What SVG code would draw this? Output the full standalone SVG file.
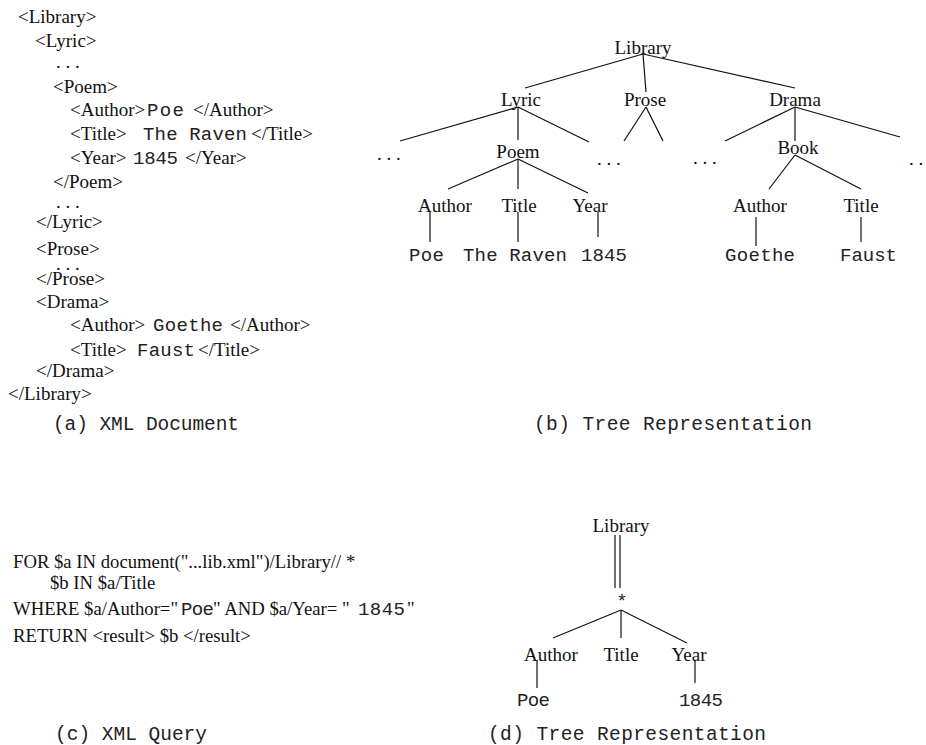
<svg xmlns="http://www.w3.org/2000/svg" width="926" height="745" viewBox="0 0 926 745">
<style>
.s{font-family:"Liberation Serif","Times New Roman",serif;font-size:19px;fill:#111}
.q{font-family:"Liberation Serif","Times New Roman",serif;font-size:18.7px;fill:#111}
.m{font-family:"Liberation Mono","Courier New",monospace;font-size:19px;fill:#222}
.c{font-family:"Liberation Mono","Courier New",monospace;font-size:19.5px;fill:#222}
.n{text-anchor:middle}
.e line{stroke:#111;stroke-width:1.2}
</style>
<rect width="926" height="745" fill="#fff"/>

<!-- (a) XML document -->
<g id="xml-doc">
<text class="s" x="18" y="23">&lt;Library&gt;</text>
<text class="s" x="35" y="47">&lt;Lyric&gt;</text>
<text class="s" x="56" y="68">. . .</text>
<text class="s" x="53" y="93">&lt;Poem&gt;</text>
<text class="s" x="70" y="116">&lt;Author&gt;</text><text class="m" x="147" y="116" textLength="37">Poe</text><text class="s" x="193" y="116">&lt;/Author&gt;</text>
<text class="s" x="70" y="140">&lt;Title&gt;</text><text class="m" x="143" y="140" textLength="104">The Raven</text><text class="s" x="251" y="140">&lt;/Title&gt;</text>
<text class="s" x="70" y="164">&lt;Year&gt;</text><text class="m" x="133" y="164" textLength="45">1845</text><text class="s" x="185" y="164">&lt;/Year&gt;</text>
<text class="s" x="53" y="188">&lt;/Poem&gt;</text>
<text class="s" x="56" y="208">. . .</text>
<text class="s" x="36" y="228">&lt;/Lyric&gt;</text>
<text class="s" x="36" y="255">&lt;Prose&gt;</text>
<text class="s" x="56" y="270">. . .</text>
<text class="s" x="36" y="285">&lt;/Prose&gt;</text>
<text class="s" x="36" y="308">&lt;Drama&gt;</text>
<text class="s" x="70" y="331">&lt;Author&gt;</text><text class="m" x="153" y="331" textLength="70">Goethe</text><text class="s" x="230" y="331">&lt;/Author&gt;</text>
<text class="s" x="70" y="356">&lt;Title&gt;</text><text class="m" x="137" y="356" textLength="58">Faust</text><text class="s" x="198" y="356">&lt;/Title&gt;</text>
<text class="s" x="36" y="377">&lt;/Drama&gt;</text>
<text class="s" x="8" y="400">&lt;/Library&gt;</text>
</g>
<text class="c" x="53" y="430" textLength="186">(a) XML Document</text>

<!-- (b) tree -->
<g class="e" id="tree-b-edges">
<line x1="643" y1="54" x2="525" y2="88"/>
<line x1="643" y1="54" x2="646" y2="92"/>
<line x1="643" y1="54" x2="795" y2="88"/>
<line x1="518" y1="107" x2="400" y2="141"/>
<line x1="518" y1="107" x2="518" y2="140"/>
<line x1="518" y1="107" x2="589" y2="142"/>
<line x1="646" y1="107" x2="624" y2="141"/>
<line x1="646" y1="107" x2="663" y2="141"/>
<line x1="518" y1="159" x2="448" y2="189"/>
<line x1="518" y1="159" x2="518" y2="189"/>
<line x1="518" y1="159" x2="588" y2="193"/>
<line x1="430" y1="212" x2="430" y2="242"/>
<line x1="518" y1="212" x2="518" y2="242"/>
<line x1="598" y1="212" x2="598" y2="237"/>
<line x1="795" y1="107" x2="725" y2="141"/>
<line x1="795" y1="107" x2="795" y2="141"/>
<line x1="795" y1="107" x2="900" y2="137"/>
<line x1="795" y1="155" x2="769" y2="189"/>
<line x1="795" y1="155" x2="861" y2="189"/>
<line x1="756" y1="217" x2="756" y2="246"/>
<line x1="861" y1="217" x2="861" y2="242"/>
</g>
<g id="b-library"><text class="s n" x="643" y="54">Library</text></g>
<g id="b-lyric"><text class="s n" x="521" y="106">Lyric</text></g>
<g id="b-prose"><text class="s n" x="645" y="106">Prose</text></g>
<g id="b-drama"><text class="s n" x="795" y="106">Drama</text></g>
<g id="b-dots1"><text class="s" x="377" y="160">. . .</text></g>
<g id="b-poem"><text class="s n" x="518" y="158">Poem</text></g>
<g id="b-dots2"><text class="s" x="597" y="165">. . .</text></g>
<g id="b-dots3"><text class="s" x="693" y="164">. . .</text></g>
<g id="b-book"><text class="s n" x="798" y="154">Book</text></g>
<g id="b-dots4"><text class="s" x="909" y="165">. . .</text></g>
<g id="b-author1"><text class="s n" x="445" y="212">Author</text></g>
<g id="b-title1"><text class="s n" x="519" y="212">Title</text></g>
<g id="b-year"><text class="s n" x="590" y="212">Year</text></g>
<g id="b-author2"><text class="s n" x="760" y="212">Author</text></g>
<g id="b-title2"><text class="s n" x="861" y="212">Title</text></g>
<g id="b-poe"><text class="m" x="409" y="261" textLength="35">Poe</text></g>
<g id="b-raven"><text class="m" x="463" y="261" textLength="104">The Raven</text></g>
<g id="b-1845"><text class="m" x="581" y="261" textLength="46">1845</text></g>
<g id="b-goethe"><text class="m" x="725" y="261" textLength="70">Goethe</text></g>
<g id="b-faust"><text class="m" x="840" y="261" textLength="57">Faust</text></g>
<text class="c" x="534" y="430" textLength="278">(b) Tree Representation</text>

<!-- (c) query -->
<g id="xml-query">
<text class="q" x="13" y="568">FOR $a IN document("...lib.xml")/Library// *</text>
<text class="q" x="50" y="589">$b IN $a/Title</text>
<text class="q" x="13" y="615">WHERE $a/Author="</text><text class="m" x="181" y="615" textLength="33">Poe</text><text class="q" x="213" y="615">" AND $a/Year= "</text><text class="m" x="358" y="615" textLength="47">1845</text><text class="q" x="407" y="615">"</text>
<text class="q" x="13" y="642">RETURN &lt;result&gt; $b &lt;/result&gt;</text>
</g>
<text class="c" x="55" y="740" textLength="152">(c) XML Query</text>

<!-- (d) tree -->
<g class="e" id="tree-d-edges">
<line x1="615" y1="535" x2="615" y2="588"/>
<line x1="620" y1="535" x2="620" y2="588"/>
<line x1="621" y1="610" x2="553" y2="638"/>
<line x1="621" y1="610" x2="621" y2="638"/>
<line x1="621" y1="610" x2="687" y2="643"/>
<line x1="537" y1="660" x2="537" y2="688"/>
<line x1="695" y1="660" x2="695" y2="683"/>
</g>
<g id="d-library"><text class="s n" x="621" y="532">Library</text></g>
<g id="d-star"><text class="m n" x="622" y="607">*</text></g>
<g id="d-author"><text class="s n" x="551" y="661">Author</text></g>
<g id="d-title"><text class="s n" x="621" y="661">Title</text></g>
<g id="d-year"><text class="s n" x="689" y="661">Year</text></g>
<g id="d-poe"><text class="m" x="517" y="706" textLength="33">Poe</text></g>
<g id="d-1845"><text class="m" x="679" y="706" textLength="44">1845</text></g>
<text class="c" x="488" y="740" textLength="278">(d) Tree Representation</text>
</svg>
